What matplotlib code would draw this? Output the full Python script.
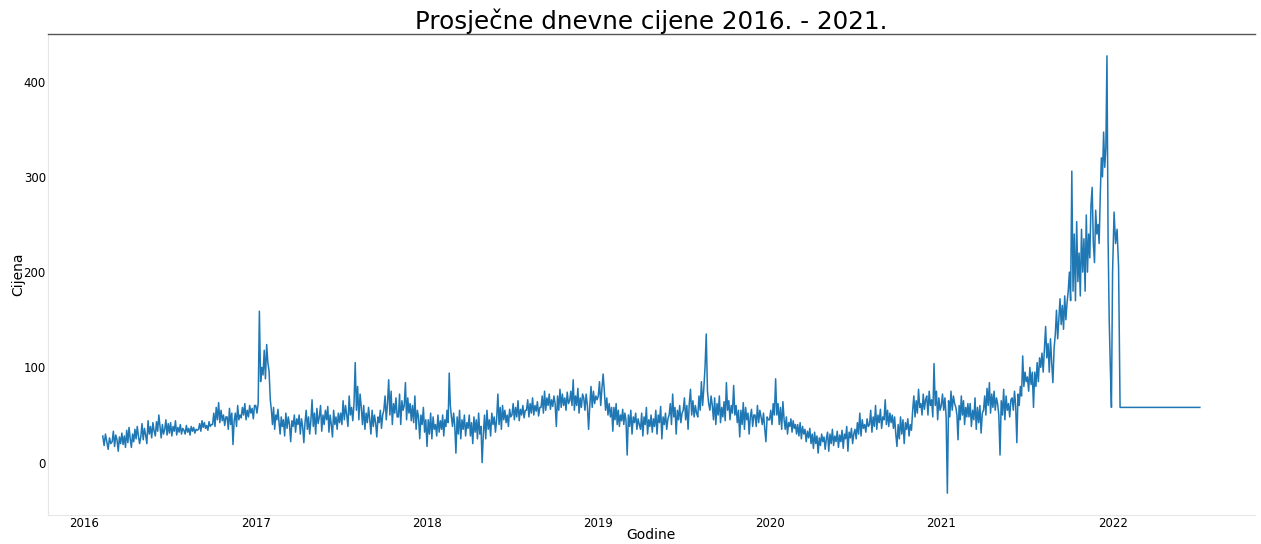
import matplotlib
matplotlib.use("Agg")
import matplotlib.pyplot as plt
import matplotlib.dates as mdates
import pandas as pd

# Daily average prices; each inner list is one month
# (values spread evenly across that month).
first_day = "2016-02-10"
last_day = "2022-01-17"

v2016 = [  # Feb .. Dec
    [28, 18, 30, 22, 14, 26, 20],
    [22, 33, 17, 29, 24, 12, 27, 20, 31, 19, 28, 16],
    [34, 21, 37, 25, 16, 30, 22, 35, 25, 38, 28, 20],
    [27, 41, 24, 36, 29, 20, 44, 30, 38, 26, 42, 33],
    [28, 43, 33, 50, 38, 26, 40, 30, 35, 45, 29, 41],
    [31, 42, 28, 38, 33, 44, 29, 37, 32, 40, 30, 36],
    [34, 30, 39, 32, 36, 29, 38, 33, 37, 31, 35, 34],
    [35, 41, 33, 44, 37, 42, 36, 39, 34, 43, 38, 40],
    [40, 52, 38, 58, 45, 63, 42, 55, 44, 50, 39, 48],
    [48, 35, 57, 40, 52, 19, 44, 52, 38, 60, 45, 50],
    [47, 58, 50, 62, 45, 55, 48, 60, 52, 57, 46, 60],
]
v2017 = [
    [60, 52, 62, 159, 85, 100, 92, 118, 88, 124, 105, 96],
    [66, 55, 40, 58, 35, 50, 45, 56, 42, 30, 48, 38],
    [45, 28, 52, 36, 48, 40, 22, 44, 38, 50, 32, 46],
    [40, 50, 30, 46, 38, 21, 42, 55, 35, 48, 30, 44],
    [66, 38, 52, 30, 57, 41, 48, 60, 33, 50, 40, 55],
    [45, 59, 32, 50, 40, 27, 55, 40, 48, 35, 52, 42],
    [52, 40, 65, 45, 60, 50, 38, 70, 50, 58, 44, 62],
    [105, 55, 80, 45, 72, 58, 40, 60, 35, 52, 42, 58],
    [45, 30, 55, 38, 50, 42, 27, 48, 42, 55, 36, 50],
    [55, 70, 45, 62, 87, 50, 75, 40, 62, 52, 68, 48],
    [48, 72, 40, 65, 55, 60, 84, 45, 68, 52, 62, 44],
    [60, 42, 70, 35, 55, 48, 25, 50, 40, 58, 32, 45],
]
v2018 = [
    [17, 45, 30, 52, 25, 48, 35, 40, 28, 50, 32, 44],
    [35, 50, 28, 45, 38, 55, 42, 94, 60, 48, 38, 52],
    [40, 10, 48, 30, 55, 25, 45, 35, 50, 28, 42, 36],
    [50, 28, 42, 20, 48, 32, 45, 25, 52, 30, 38, 0],
    [30, 50, 25, 55, 35, 45, 28, 52, 40, 48, 32, 46],
    [72, 40, 58, 35, 60, 45, 55, 42, 50, 38, 56, 48],
    [50, 62, 45, 58, 48, 65, 44, 56, 50, 60, 47, 55],
    [55, 66, 48, 62, 52, 68, 50, 60, 54, 64, 49, 58],
    [58, 70, 52, 75, 55, 68, 60, 72, 56, 66, 59, 70],
    [62, 38, 70, 55, 77, 58, 72, 60, 68, 55, 74, 62],
    [65, 75, 60, 87, 55, 70, 60, 78, 52, 68, 58, 72],
    [68, 55, 72, 60, 35, 60, 80, 58, 75, 62, 70, 66],
]
v2019 = [
    [70, 85, 60, 78, 93, 75, 55, 68, 50, 62, 48, 58],
    [33, 58, 45, 62, 40, 55, 38, 50, 44, 56, 40, 52],
    [45, 8, 50, 38, 55, 30, 48, 42, 52, 35, 46, 40],
    [35, 52, 28, 48, 40, 58, 30, 45, 38, 50, 32, 46],
    [38, 55, 30, 50, 42, 59, 25, 48, 40, 52, 35, 46],
    [50, 62, 40, 72, 48, 58, 30, 55, 45, 60, 42, 52],
    [55, 68, 45, 60, 35, 62, 77, 50, 65, 48, 60, 52],
    [48, 70, 55, 85, 60, 78, 100, 135, 75, 62, 55, 70],
    [60, 45, 68, 40, 62, 50, 70, 42, 58, 48, 64, 44],
    [84, 55, 65, 45, 60, 52, 81, 50, 60, 42, 55, 27],
    [55, 40, 63, 35, 58, 45, 52, 30, 48, 56, 38, 50],
    [50, 38, 60, 42, 55, 48, 40, 52, 36, 22, 48, 45],
]
v2020 = [
    [45, 55, 40, 62, 50, 88, 50, 62, 40, 58, 35, 64],
    [45, 35, 48, 30, 42, 38, 46, 32, 44, 36, 40, 30],
    [40, 28, 42, 25, 38, 30, 35, 22, 33, 26, 36, 20],
    [30, 15, 32, 20, 28, 10, 26, 18, 30, 22, 27, 14],
    [25, 32, 12, 30, 20, 35, 18, 28, 22, 33, 16, 29],
    [22, 34, 15, 30, 25, 38, 12, 32, 26, 36, 20, 30],
    [35, 25, 42, 30, 52, 28, 45, 36, 40, 32, 46, 38],
    [40, 55, 32, 48, 38, 60, 35, 50, 42, 56, 36, 48],
    [45, 66, 40, 55, 38, 52, 42, 50, 36, 48, 30, 17],
    [40, 25, 48, 30, 45, 20, 42, 35, 46, 28, 40, 34],
    [55, 70, 48, 65, 52, 77, 58, 62, 50, 72, 56, 66],
    [70, 50, 75, 60, 66, 48, 104, 60, 75, 45, 68, 55],
]
v2021 = [
    [60, 72, 55, 68, 48, -32, 65, 48, 75, 55, 70, 62],
    [58, 50, 24, 60, 45, 70, 50, 65, 40, 58, 48, 62],
    [48, 62, 38, 55, 45, 68, 35, 58, 42, 60, 31, 52],
    [55, 70, 50, 78, 60, 84, 52, 72, 58, 75, 55, 68],
    [62, 50, 8, 65, 50, 77, 45, 70, 55, 62, 48, 66],
    [68, 55, 75, 60, 21, 72, 60, 80, 70, 112, 80, 95],
    [85, 90, 75, 100, 82, 95, 58, 95, 80, 105, 85, 110],
    [100, 115, 95, 120, 143, 110, 125, 95, 130, 105, 84, 120],
    [135, 160, 130, 150, 172, 145, 165, 140, 175, 150, 168, 180],
    [200, 170, 306, 180, 240, 170, 253, 190, 220, 175, 245, 200],
    [235, 180, 260, 200, 240, 215, 270, 289, 230, 210, 265, 240],
    [250, 230, 280, 320, 300, 347, 310, 330, 427, 235, 150, 100, 58],
]
v2022 = [
    [200, 263, 230, 245, 206],
]
# flat fill after the data ends
flat_value = 58
flat_end = "2022-07-06"

years = [2016, 2017, 2018, 2019, 2020, 2021, 2022]
blocks = [v2016, v2017, v2018, v2019, v2020, v2021, v2022]
first_months = [2, 1, 1, 1, 1, 1, 1]

start_ts = pd.Timestamp(first_day)
end_ts = pd.Timestamp(last_day)
dates, values = [], []
for yr, block, m0 in zip(years, blocks, first_months):
    for k, month_vals in enumerate(block):
        m = m0 + k
        ms = pd.Timestamp(year=yr, month=m, day=1)
        me = ms + pd.offsets.MonthBegin(1)
        if ms < start_ts:
            ms = start_ts
        if me > end_ts:
            me = end_ts
        span = (me - ms) / len(month_vals)
        for j, v in enumerate(month_vals):
            dates.append(ms + span * j)
            values.append(v)
dates.append(end_ts)
values.append(flat_value)
dates.append(pd.Timestamp(flat_end))
values.append(flat_value)

fig = plt.figure(figsize=(12.61, 5.44), dpi=100)
ax = fig.add_axes([0.038, 0.0533, 0.957, 0.8842])
ax.plot(dates, values, color="#1f77b4", linewidth=1.1)

ax.set_title("Prosječne dnevne cijene 2016. - 2021.", fontsize=17.7, pad=3)
ax.set_xlabel("Godine", fontsize=10, labelpad=-1.5)
ax.set_ylabel("Cijena", fontsize=10, labelpad=-1)
ax.set_yticks([0, 100, 200, 300, 400])
ax.xaxis.set_major_locator(mdates.YearLocator())
ax.xaxis.set_major_formatter(mdates.DateFormatter("%Y"))
ax.tick_params(axis="both", length=0, labelsize=8.5, pad=1.5)

ax.spines["top"].set_color("#555555")
ax.spines["top"].set_linewidth(1.0)
ax.spines["right"].set_visible(False)
ax.spines["left"].set_color("#e6e6e6")
ax.spines["bottom"].set_color("#e6e6e6")

fig.savefig("out.png", dpi=100)
